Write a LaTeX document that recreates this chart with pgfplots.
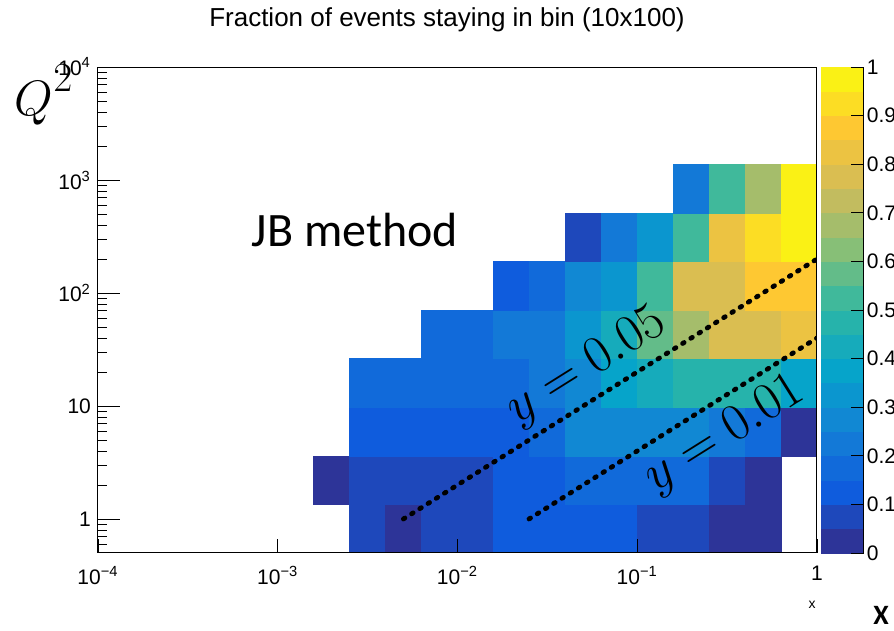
\documentclass[border=0pt]{standalone}
\usepackage[no-math]{fontspec}
\setmainfont{Liberation Sans}
\newfontfamily\calibri{Carlito}
\usepackage{pgfplots}
\pgfplotsset{compat=1.18}

% one histogram cell: 1/20 of the axis width, 1/10 of its height
\pgfdeclareplotmark{cell}{%
  \pgfpathrectangle{\pgfpoint{-8.9875pt}{-12.15pt}}{\pgfpoint{17.975pt}{24.3pt}}%
  \pgfusepathqfillstroke}

\pgfplotsset{
  colormap={birdsteps}{
    rgb=(0.1784,0.2051,0.5971) rgb=(0.1188,0.2825,0.7328)
    rgb=(0.0592,0.3599,0.8684) rgb=(0.0667,0.4176,0.8564)
    rgb=(0.0742,0.4753,0.8445) rgb=(0.0670,0.5317,0.8291)
    rgb=(0.0451,0.5868,0.8102) rgb=(0.0232,0.6419,0.7914)
    rgb=(0.0860,0.6723,0.7318) rgb=(0.1488,0.7026,0.6723)
    rgb=(0.2502,0.7241,0.6072) rgb=(0.3901,0.7366,0.5367)
    rgb=(0.5301,0.7492,0.4662) rgb=(0.6455,0.7426,0.4197)
    rgb=(0.7609,0.7361,0.3732) rgb=(0.8540,0.7435,0.3193)
    rgb=(0.9248,0.7648,0.2580) rgb=(0.9956,0.7862,0.1968)
    rgb=(0.9879,0.8650,0.1396) rgb=(0.9802,0.9438,0.0825)
  },
}

\begin{document}
\begin{tikzpicture}
\begin{axis}[
  scale only axis, width=359.5pt, height=243pt,
  at={(0,0)}, anchor=south west,
  xmode=log, ymode=log,
  xmin=1e-4, xmax=1, ymin=0.5, ymax=1e4,
  axis on top, clip marker paths=true,
  axis line style={black, line width=0.5pt},
  tick pos=left, tick align=inside,
  tick style={black, line width=0.4pt},
  major tick length=11pt, minor tick length=4.5pt,
  xtick=\empty,
  extra x ticks={1e-4,1e-3,1e-2,1e-1,1},
  extra x tick labels={10\textsuperscript{−4},10\textsuperscript{−3},10\textsuperscript{−2},10\textsuperscript{−1},1},
  extra x tick style={major tick length=7pt, tick pos=left,
    xticklabel style={yshift=-3pt}},
  minor xtick={2e-4,3e-4,4e-4,5e-4,6e-4,7e-4,8e-4,9e-4,
    2e-3,3e-3,4e-3,5e-3,6e-3,7e-3,8e-3,9e-3,
    2e-2,3e-2,4e-2,5e-2,6e-2,7e-2,8e-2,9e-2,
    0.2,0.3,0.4,0.5,0.6,0.7,0.8,0.9},
  ytick={1,10,100,1000,10000},
  yticklabels={1,10,10\textsuperscript{2},10\textsuperscript{3},10\textsuperscript{4}},
  minor ytick={0.6,0.7,0.8,0.9,2,3,4,5,6,7,8,9,20,30,40,50,60,70,80,90,
    200,300,400,500,600,700,800,900,2000,3000,4000,5000,6000,7000,8000,9000},
  ticklabel style={font=\fontsize{10.5}{12}\selectfont},
  colormap name=birdsteps,
  colormap access=piecewise constant,
  point meta min=0, point meta max=1,
  colorbar,
  colorbar style={
    at={(parent axis.north east)}, anchor=north west, xshift=-6.75pt,
    scale only axis, width=21.5pt, height=243pt,
    axis x line=none, axis y line*=right,
    axis line style={black, line width=0.5pt},
    ytick={0,0.1,0.2,0.3,0.4,0.5,0.6,0.7,0.8,0.9,1},
    tick align=inside, major tick length=6.5pt,
    tick style={black, line width=0.4pt},
    yticklabel style={font=\fontsize{10.5}{12}\selectfont,
      /pgf/number format/assume math mode=true, inner sep=1.5pt},
  },
]
\addplot[scatter, only marks, mark=cell, line width=0.2pt,
  scatter/use mapped color={draw=mapped color, fill=mapped color},
  point meta=explicit] table[meta=c] {
x y c
0.0031623 0.82059 0.075
0.0050119 0.82059 0.025
0.0079433 0.82059 0.075
0.012589 0.82059 0.075
0.019953 0.82059 0.125
0.031623 0.82059 0.125
0.050119 0.82059 0.125
0.079433 0.82059 0.125
0.12589 0.82059 0.075
0.19953 0.82059 0.075
0.31623 0.82059 0.025
0.50119 0.82059 0.025
0.0019953 2.2087 0.025
0.0031623 2.2087 0.075
0.0050119 2.2087 0.075
0.0079433 2.2087 0.075
0.012589 2.2087 0.075
0.019953 2.2087 0.125
0.031623 2.2087 0.125
0.050119 2.2087 0.175
0.079433 2.2087 0.175
0.12589 2.2087 0.175
0.19953 2.2087 0.175
0.31623 2.2087 0.075
0.50119 2.2087 0.025
0.0031623 5.946 0.125
0.0050119 5.946 0.125
0.0079433 5.946 0.125
0.012589 5.946 0.125
0.019953 5.946 0.125
0.031623 5.946 0.175
0.050119 5.946 0.275
0.079433 5.946 0.275
0.12589 5.946 0.275
0.19953 5.946 0.275
0.31623 5.946 0.225
0.50119 5.946 0.175
0.79433 5.946 0.025
0.0031623 16.01 0.175
0.0050119 16.01 0.175
0.0079433 16.01 0.175
0.012589 16.01 0.175
0.019953 16.01 0.175
0.031623 16.01 0.225
0.050119 16.01 0.275
0.079433 16.01 0.375
0.12589 16.01 0.425
0.19953 16.01 0.475
0.31623 16.01 0.475
0.50119 16.01 0.475
0.79433 16.01 0.375
0.0079433 43.10 0.175
0.012589 43.10 0.175
0.019953 43.10 0.225
0.031623 43.10 0.225
0.050119 43.10 0.325
0.079433 43.10 0.425
0.12589 43.10 0.575
0.19953 43.10 0.675
0.31623 43.10 0.775
0.50119 43.10 0.775
0.79433 43.10 0.825
0.019953 116.03 0.125
0.031623 116.03 0.175
0.050119 116.03 0.275
0.079433 116.03 0.325
0.12589 116.03 0.525
0.19953 116.03 0.775
0.31623 116.03 0.775
0.50119 116.03 0.875
0.79433 116.03 0.875
0.050119 312.35 0.075
0.079433 312.35 0.225
0.12589 312.35 0.325
0.19953 312.35 0.525
0.31623 312.35 0.825
0.50119 312.35 0.925
0.79433 312.35 0.975
0.19953 841.0 0.225
0.31623 841.0 0.525
0.50119 841.0 0.675
0.79433 841.0 0.975
};
\addplot[black, line width=2.4pt, line cap=round, dash pattern=on 0.9pt off 3.95pt]
  coordinates {(0.005,1) (1,200)};
\addplot[black, line width=2.4pt, line cap=round, dash pattern=on 0.9pt off 3.95pt]
  coordinates {(0.025,1) (1,40)};
\end{axis}
\node[font=\fontsize{13}{15}\selectfont] at (174.5pt,266.5pt) {Fraction of events staying in bin (10x100)};
\node[font=\calibri\fontsize{24}{28}\selectfont] at (128.5pt,161.5pt) {JB method};
\node at (-27pt,229pt) {\fontsize{24.88}{30}\selectfont $Q^{\raisebox{2.5pt}{$\scriptstyle 2$}}$};
\node[rotate=32.1, scale=1.05] at (244.5pt,93pt) {\fontsize{24.88}{30}\selectfont $y=0.05$};
\node[rotate=32.1, scale=1.05] at (313.5pt,59pt) {\fontsize{24.88}{30}\selectfont $y=0.01$};
\node[font=\fontsize{7}{8}\selectfont] at (357pt,-26pt) {x};
\node[font=\calibri\bfseries\fontsize{14}{16}\selectfont] at (391.5pt,-31pt) {X};
\pgfresetboundingbox
\path (-49pt,-39pt) rectangle (398pt,276.5pt);
\end{tikzpicture}
\end{document}
